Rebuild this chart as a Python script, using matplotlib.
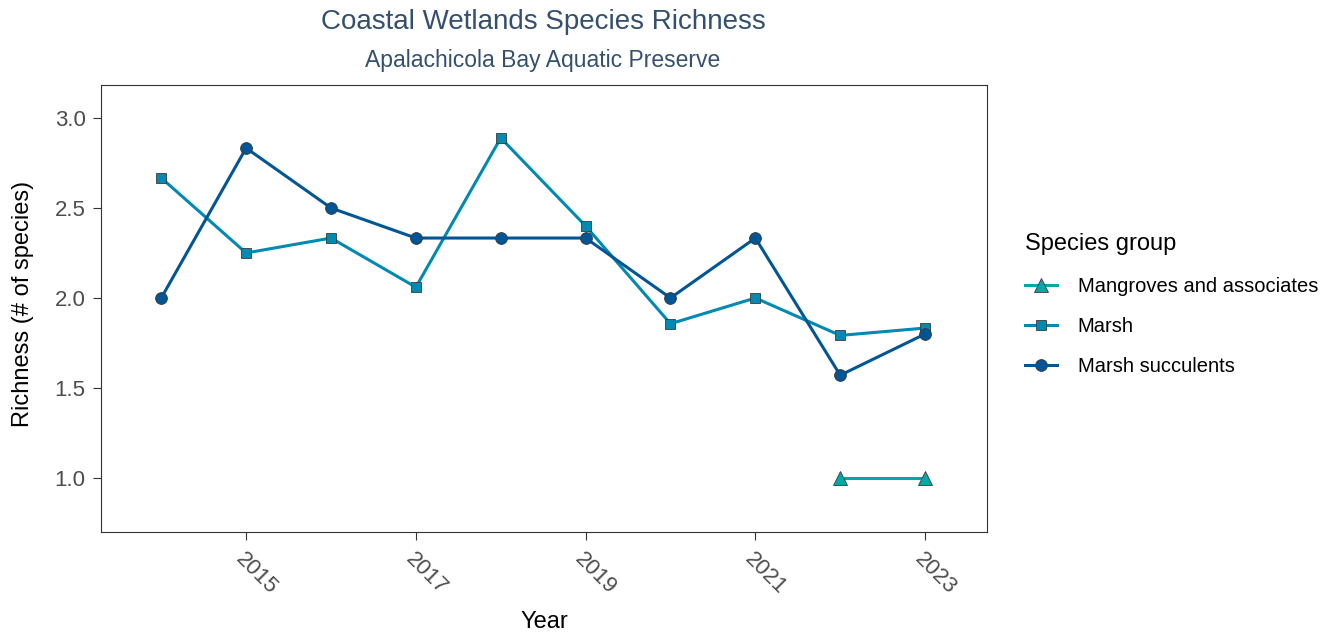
import matplotlib
matplotlib.use("Agg")
import matplotlib.pyplot as plt
from matplotlib.lines import Line2D

plt.rcParams['font.family'] = ['Liberation Sans', 'DejaVu Sans']

years = [2014, 2015, 2016, 2017, 2018, 2019, 2020, 2021, 2022, 2023]
marsh = [2.667, 2.25, 2.333, 2.06, 2.889, 2.4, 1.857, 2.0, 1.792, 1.833]
succulents = [2.0, 2.833, 2.5, 2.333, 2.333, 2.333, 2.0, 2.333, 1.571, 1.8]
mangrove_years = [2022, 2023]
mangroves = [1.0, 1.0]

groups = ["Mangroves and associates", "Marsh", "Marsh succulents"]
colors = ["#00A8A8", "#0089B2", "#005595"]
markers = ["^", "s", "o"]
x_ticks = [2015, 2017, 2019, 2021, 2023]
y_ticks = [1.0, 1.5, 2.0, 2.5, 3.0]

fig = plt.figure(figsize=(13.29, 6.35), dpi=100)
ax = fig.add_axes([0.076, 0.1622, 0.6667, 0.7039])

series = [(mangrove_years, mangroves), (years, marsh), (years, succulents)]
sizes = [10.5, 7.8, 8.5]
for (xs, ys), c, m, ms in zip(series, colors, markers, sizes):
    ax.plot(xs, ys, color=c, lw=2.2, marker=m, markersize=ms,
            markerfacecolor=c, markeredgecolor="#3a3a3a", markeredgewidth=0.6)

ax.set_xlim(2013.29, 2023.73)
ax.set_ylim(0.7, 3.183)
ax.set_xticks(x_ticks)
ax.set_xticklabels([str(t) for t in x_ticks], rotation=-45, ha='left', va='top',
                   rotation_mode='anchor', fontsize=16, color="#4D4D4D")
ax.set_yticks(y_ticks)
ax.set_yticklabels([f"{t:.1f}" for t in y_ticks], fontsize=16, color="#4D4D4D")
ax.tick_params(axis='both', direction='out', length=6, width=0.8, color="#333333")
ax.tick_params(axis='x', pad=6)
ax.tick_params(axis='y', pad=5)
for s in ax.spines.values():
    s.set_color("#333333")
    s.set_linewidth(0.8)

ax.set_xlabel("Year", fontsize=17, color="black")
ax.set_ylabel("Richness (# of species)", fontsize=17, color="black")
ax.xaxis.set_label_coords(0.5, -0.177)
ax.yaxis.set_label_coords(-0.076, 0.51)

fig.text(0.4086, 1 - 22 / 635, "Coastal Wetlands Species Richness", ha='center', va='center',
         fontsize=20, color="#34506E")
fig.text(0.4086, 1 - 61 / 635, "Apalachicola Bay Aquatic Preserve", ha='center', va='center',
         fontsize=16.5, color="#34506E")

handles = [Line2D([0], [0], color=c, lw=2.2, marker=m, markersize=ms,
                  markerfacecolor=c, markeredgecolor="#3a3a3a", markeredgewidth=0.6)
           for c, m, ms in zip(colors, markers, sizes)]
leg = fig.legend(handles, groups, loc='upper left', bbox_to_anchor=(0.7653, 0.645),
                 frameon=False, title="Species group", fontsize=14.5,
                 title_fontsize=17, handlelength=1.6, labelspacing=1.05,
                 handletextpad=1.0, alignment='left', borderaxespad=0)

fig.savefig("out.png", dpi=100)
